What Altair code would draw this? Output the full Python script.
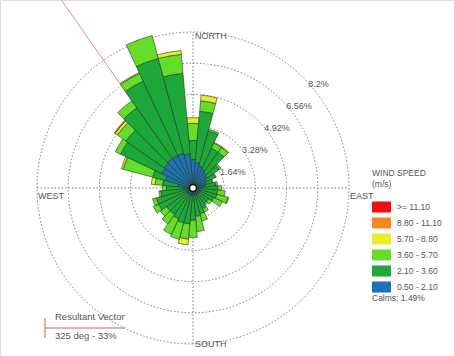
import math
import altair as alt
import pandas as pd

# ---- rose geometry (pixels) ----
W, H = 454, 356
CX, CY = 193, 188          # centre of the rose
R_OUT = 156                # pixel radius of the outer ring
R_MAX = 8.2                # percent value of the outer ring

# ---- data ----
directions = [0, 10, 20, 30, 40, 50, 60, 70, 80, 90, 100, 110,
              120, 130, 140, 150, 160, 170, 180, 190, 200, 210, 220, 230,
              240, 250, 260, 270, 280, 290, 300, 310, 320, 330, 340, 350]

# frequency (%) per direction for each wind speed class, calmest first
pct_050_210 = [1.50, 1.35, 1.20, 1.10, 1.00, 0.90, 0.80, 0.70, 0.60, 0.50, 0.40, 0.40,
               0.40, 0.40, 0.40, 0.40, 0.40, 0.40, 0.40, 0.40, 0.40, 0.40, 0.40, 0.40,
               0.40, 0.40, 0.40, 0.50, 0.80, 1.50, 1.80, 1.85, 1.90, 1.90, 1.90, 1.80]
pct_210_360 = [1.00, 2.70, 1.90, 1.20, 1.30, 0.80, 0.50, 0.40, 0.60, 0.80, 0.90, 0.90,
               0.80, 0.60, 0.60, 0.80, 1.00, 1.10, 1.30, 1.50, 1.50, 1.40, 1.30, 1.30,
               1.60, 1.60, 1.30, 0.90, 0.80, 0.70, 2.40, 2.45, 3.25, 4.30, 5.15, 4.25]
pct_360_570 = [0.90, 0.55, 0.10, 0.30, 0.30, 0.10, 0.05, 0.00, 0.10, 0.20, 0.40, 0.60,
               0.50, 0.20, 0.10, 0.20, 0.40, 0.80, 0.90, 0.80, 0.90, 0.90, 0.60, 0.40,
               0.30, 0.20, 0.10, 0.20, 0.40, 1.60, 0.30, 0.55, 0.45, 0.45, 1.25, 1.00]
pct_570_880 = [0.30, 0.30, 0.00, 0.05, 0.05, 0.00, 0.00, 0.00, 0.00, 0.00, 0.00, 0.05,
               0.00, 0.00, 0.00, 0.00, 0.00, 0.00, 0.00, 0.30, 0.00, 0.00, 0.00, 0.00,
               0.00, 0.00, 0.00, 0.00, 0.20, 0.10, 0.00, 0.15, 0.00, 0.05, 0.00, 0.20]
pct_880_1110 = [0.00, 0.00, 0.00, 0.00, 0.00, 0.00, 0.00, 0.00, 0.00, 0.00, 0.00, 0.00,
                0.00, 0.00, 0.00, 0.00, 0.00, 0.00, 0.00, 0.00, 0.00, 0.00, 0.00, 0.00,
                0.00, 0.00, 0.00, 0.00, 0.00, 0.00, 0.00, 0.05, 0.00, 0.00, 0.00, 0.00]
pct_ge_1110 = [0.00, 0.00, 0.00, 0.00, 0.00, 0.00, 0.00, 0.00, 0.00, 0.00, 0.00, 0.00,
               0.00, 0.00, 0.00, 0.00, 0.00, 0.00, 0.00, 0.00, 0.00, 0.00, 0.00, 0.00,
               0.00, 0.00, 0.00, 0.00, 0.00, 0.00, 0.00, 0.00, 0.00, 0.00, 0.00, 0.00]

speed_classes = [">= 11.10", "8.80 - 11.10", "5.70 - 8.80",
                 "3.60 - 5.70", "2.10 - 3.60", "0.50 - 2.10"]
class_colors = ["#ee1111", "#f08a1e", "#e4ee2a", "#66dd2a", "#1fa83a", "#1f70b4"]

ring_values = [1.64, 3.28, 4.92, 6.56, 8.2]
ring_labels = ["1.64%", "3.28%", "4.92%", "6.56%", "8.2%"]
compass_labels = ["NORTH", "EAST", "SOUTH", "WEST"]
calms_pct = 1.49
resultant_dir = 325
resultant_pct = 33

# ---- tables ----
series_inner_to_outer = [
    ("0.50 - 2.10", pct_050_210),
    ("2.10 - 3.60", pct_210_360),
    ("3.60 - 5.70", pct_360_570),
    ("5.70 - 8.80", pct_570_880),
    ("8.80 - 11.10", pct_880_1110),
    (">= 11.10", pct_ge_1110),
]
rows = []
for i, d in enumerate(directions):
    base = 0.0
    for name, vals in series_inner_to_outer:
        v = vals[i]
        if v > 0:
            rows.append({"a0": d - 5, "a1": d + 5, "r0": base, "r1": base + v, "speed": name})
        base += v
seg_df = pd.DataFrame(rows)

ring_df = pd.DataFrame({"a0": 0, "a1": 360, "r1": ring_values, "label": ring_labels})
ring_df["lx"] = ring_df["r1"] * math.sin(math.radians(45))
ring_df["ly"] = ring_df["r1"] * math.cos(math.radians(45))

cross_df = pd.DataFrame({"x": [-R_MAX, 0.0], "x2": [R_MAX, 0.0],
                         "y": [0.0, -R_MAX], "y2": [0.0, R_MAX]})

vec_rad = math.radians(resultant_dir)
vec_df = pd.DataFrame({"x": [0.0], "y": [0.0],
                       "x2": [resultant_pct * math.sin(vec_rad)],
                       "y2": [resultant_pct * math.cos(vec_rad)]})

# ---- scales ----
theta_scale = alt.Scale(type="linear", domain=[0, 360], range=[0, 2 * math.pi])
r_scale = alt.Scale(type="linear", domain=[0, R_MAX], range=[0, R_OUT], zero=True)
x_scale = alt.Scale(domain=[-R_MAX, R_MAX], range=[CX - R_OUT, CX + R_OUT])
y_scale = alt.Scale(domain=[-R_MAX, R_MAX], range=[CY + R_OUT, CY - R_OUT])

FONT = "Liberation Sans"
GRID = "#7a7a8a"
TXT = "#555555"

rings = alt.Chart(ring_df).mark_arc(
    fillOpacity=0, stroke=GRID, strokeWidth=1, strokeDash=[1.5, 2]
).encode(
    theta=alt.Theta("a0:Q", scale=theta_scale, stack=None),
    theta2="a1:Q",
    radius=alt.Radius("r1:Q", scale=r_scale),
    x=alt.value(CX), y=alt.value(CY),
)

cross = alt.Chart(cross_df).mark_rule(
    stroke=GRID, strokeWidth=1, strokeDash=[1.5, 2]
).encode(
    x=alt.X("x:Q", scale=x_scale, axis=None), x2="x2:Q",
    y=alt.Y("y:Q", scale=y_scale, axis=None), y2="y2:Q",
)

vector = alt.Chart(vec_df).mark_rule(
    stroke="#e08888", strokeWidth=1, clip=True
).encode(
    x=alt.X("x:Q", scale=x_scale, axis=None), x2="x2:Q",
    y=alt.Y("y:Q", scale=y_scale, axis=None), y2="y2:Q",
)

bars = alt.Chart(seg_df).mark_arc(
    stroke="#1c3a22", strokeWidth=0.6
).encode(
    theta=alt.Theta("a0:Q", scale=theta_scale, stack=None),
    theta2="a1:Q",
    radius=alt.Radius("r1:Q", scale=r_scale),
    radius2="r0:Q",
    x=alt.value(CX), y=alt.value(CY),
    color=alt.Color(
        "speed:N",
        scale=alt.Scale(domain=speed_classes, range=class_colors),
        legend=alt.Legend(
            title=["WIND SPEED", "(m/s)"],
            orient="none", legendX=372, legendY=169,
            titleFont=FONT, titleFontSize=8.5, titleFontWeight="normal",
            titleColor=TXT, titlePadding=9, titleLineHeight=11,
            labelFont=FONT, labelFontSize=8.5, labelColor=TXT, labelOffset=6,
            symbolType="M-1,-0.58H1V0.58H-1Z", symbolSize=361,
            symbolStrokeWidth=0, symbolOpacity=1, rowPadding=-1,
        ),
    ),
)

calm_dot = alt.Chart(pd.DataFrame({"a0": [0], "a1": [360]})).mark_arc(
    fill="white", stroke="#111111", strokeWidth=1.5
).encode(
    theta=alt.Theta("a0:Q", scale=theta_scale, stack=None),
    theta2="a1:Q",
    radius=alt.value(3.5),
    x=alt.value(CX), y=alt.value(CY),
)

ring_text = alt.Chart(ring_df).mark_text(
    align="left", baseline="middle", dx=5, dy=6, font=FONT, fontSize=9, color=TXT
).encode(
    x=alt.X("lx:Q", scale=x_scale, axis=None),
    y=alt.Y("ly:Q", scale=y_scale, axis=None),
    text="label:N",
)

# compass labels sit just beside the ends of the cross lines
compass_pos = {"NORTH": (0.0, R_MAX, 2, 4), "EAST": (R_MAX, 0.0, 1, 8),
               "SOUTH": (0.0, -R_MAX, 2, 0), "WEST": (-R_MAX, 0.0, 1, 8)}
compass_layers = []
for name in compass_labels:
    cx, cy, ddx, ddy = compass_pos[name]
    compass_layers.append(
        alt.Chart(pd.DataFrame({"x": [cx], "y": [cy], "t": [name]})).mark_text(
            align="left", baseline="middle", dx=ddx, dy=ddy,
            font=FONT, fontSize=9, color=TXT
        ).encode(
            x=alt.X("x:Q", scale=x_scale, axis=None),
            y=alt.Y("y:Q", scale=y_scale, axis=None),
            text="t:N",
        )
    )

calms_text = alt.Chart(pd.DataFrame({"t": [f"Calms: {calms_pct:.2f}%"]})).mark_text(
    align="left", baseline="middle", font=FONT, fontSize=8.5, color=TXT
).encode(x=alt.value(372), y=alt.value(298), text="t:N")

# resultant vector key, lower left
key_tick = alt.Chart(pd.DataFrame({"k": [0]})).mark_rule(
    stroke="#d06060", strokeWidth=1
).encode(x=alt.value(45), y=alt.value(318), y2=alt.value(338))
key_line = alt.Chart(pd.DataFrame({"k": [0]})).mark_rule(
    stroke="#d06060", strokeWidth=1
).encode(x=alt.value(45), x2=alt.value(125), y=alt.value(328))
key_title = alt.Chart(pd.DataFrame({"t": ["Resultant Vector"]})).mark_text(
    align="left", baseline="middle", font=FONT, fontSize=9.5, color=TXT
).encode(x=alt.value(55), y=alt.value(317), text="t:N")
key_value = alt.Chart(
    pd.DataFrame({"t": [f"{resultant_dir} deg - {resultant_pct}%"]})
).mark_text(
    align="left", baseline="middle", font=FONT, fontSize=9.5, color=TXT
).encode(x=alt.value(55), y=alt.value(336), text="t:N")

chart = alt.layer(
    rings, cross, vector, bars, calm_dot, ring_text, *compass_layers,
    calms_text, key_tick, key_line, key_title, key_value,
).properties(
    width=W, height=H, padding=0,
    autosize=alt.AutoSizeParams(type="none"),
    background="white",
).configure_view(strokeWidth=0).configure(font=FONT)

chart.save("out.html", embed_options={"renderer": "svg", "actions": False})
